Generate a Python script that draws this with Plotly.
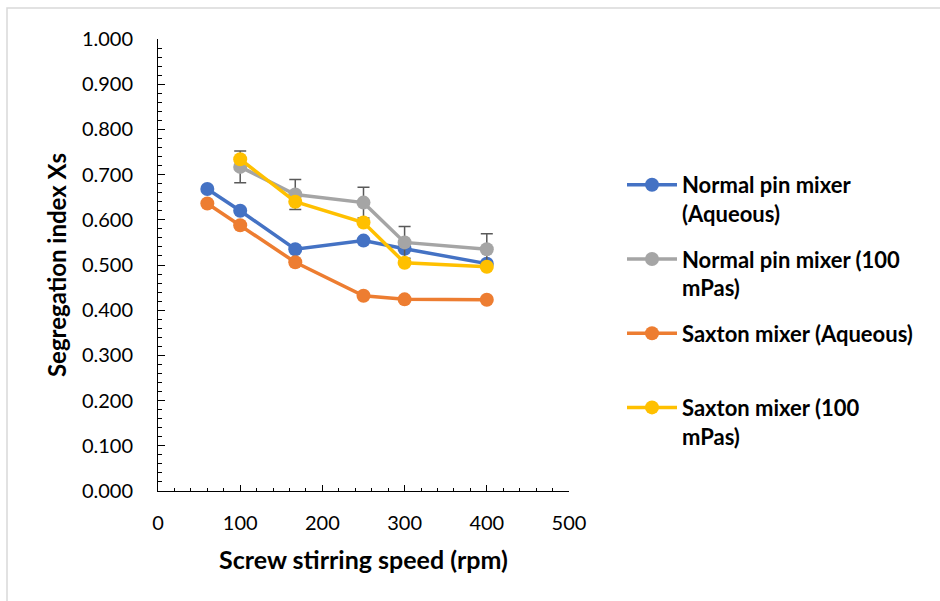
import plotly.graph_objects as go

speed_blue = [60, 100, 167, 250, 300, 400]
npm_aqueous = [0.668, 0.620, 0.535, 0.554, 0.536, 0.503]

speed_gray = [100, 167, 250, 300, 400]
npm_100 = [0.717, 0.656, 0.638, 0.550, 0.535]
npm_100_err = [0.035, 0.033, 0.034, 0.035, 0.034]

speed_orange = [60, 100, 167, 250, 300, 400]
saxton_aqueous = [0.636, 0.588, 0.506, 0.432, 0.424, 0.423]

speed_yellow = [100, 167, 250, 300, 400]
saxton_100 = [0.734, 0.640, 0.594, 0.505, 0.496]

names = ["Normal pin mixer<br>(Aqueous)", "Normal pin mixer (100<br>mPas)",
         "Saxton mixer (Aqueous)<br> ", "Saxton mixer (100<br>mPas)"]
colors = ["#4472C4", "#A5A5A5", "#ED7D31", "#FFC000"]

W, H = 940, 601
L, R, T, B = 158, 569, 39, 491
pw, ph = R - L, B - T

def px_x(p):
    return (p - L) / pw

def px_y(p):
    return (B - p) / ph

fig = go.Figure()
series = [
    (speed_blue, npm_aqueous, None),
    (speed_gray, npm_100, npm_100_err),
    (speed_orange, saxton_aqueous, None),
    (speed_yellow, saxton_100, None),
]
for i, ((xs, ys, err), nm, c) in enumerate(zip(series, names, colors)):
    kw = {}
    if err is not None:
        kw["error_y"] = dict(type="data", array=err, visible=True,
                             color="#595959", thickness=1.5, width=6)
    fig.add_trace(go.Scatter(x=xs, y=ys, name=nm, mode="lines+markers",
                             legendgroup=f"g{i}",
                             line=dict(color=c, width=3.5),
                             marker=dict(color=c, size=14), **kw))

font_main = "Lato, 'Open Sans', sans-serif"

fig.update_layout(
    width=W, height=H,
    margin=dict(l=L, r=W - R, t=T, b=H - B),
    paper_bgcolor="white", plot_bgcolor="white",
    font=dict(family=font_main, color="#000000"),
    showlegend=True,
    legend=dict(x=px_x(622), y=px_y(164), xanchor="left", yanchor="top",
                font=dict(size=22, color="#000000", family=font_main, weight="bold"),
                valign="top", tracegroupgap=14, traceorder="grouped",
                itemwidth=50, bgcolor="rgba(0,0,0,0)"),
    shapes=[dict(type="rect", xref="paper", yref="paper",
                 x0=px_x(7), x1=px_x(980), y0=px_y(640), y1=px_y(8),
                 line=dict(color="#D9D9D9", width=1.5), layer="below")],
)

fig.update_xaxes(range=[0, 500], dtick=100, tick0=0,
                 showline=True, linecolor="#000000", linewidth=1,
                 ticks="inside", ticklen=6, tickcolor="#000000",
                 minor=dict(dtick=20, ticks="inside", ticklen=3, tickcolor="#000000"),
                 showgrid=False, zeroline=False, ticklabelstandoff=14,
                 tickfont=dict(size=20, color="#000000"),
                 title=dict(text="Screw stirring speed (rpm)",
                            font=dict(size=25, weight="bold", color="#000000"), standoff=18))
fig.update_yaxes(range=[0, 1], dtick=0.1, tick0=0, tickformat=".3f",
                 showline=True, linecolor="#000000", linewidth=1,
                 ticks="inside", ticklen=7, tickcolor="#000000",
                 minor=dict(dtick=0.02, ticks="inside", ticklen=4, tickcolor="#000000"),
                 showgrid=False, zeroline=False, ticklabelstandoff=20,
                 tickfont=dict(size=20, color="#000000"),
                 title=dict(text="Segregation index Xs",
                            font=dict(size=24, weight="bold", color="#000000"), standoff=8))

fig.write_html("out.html")
